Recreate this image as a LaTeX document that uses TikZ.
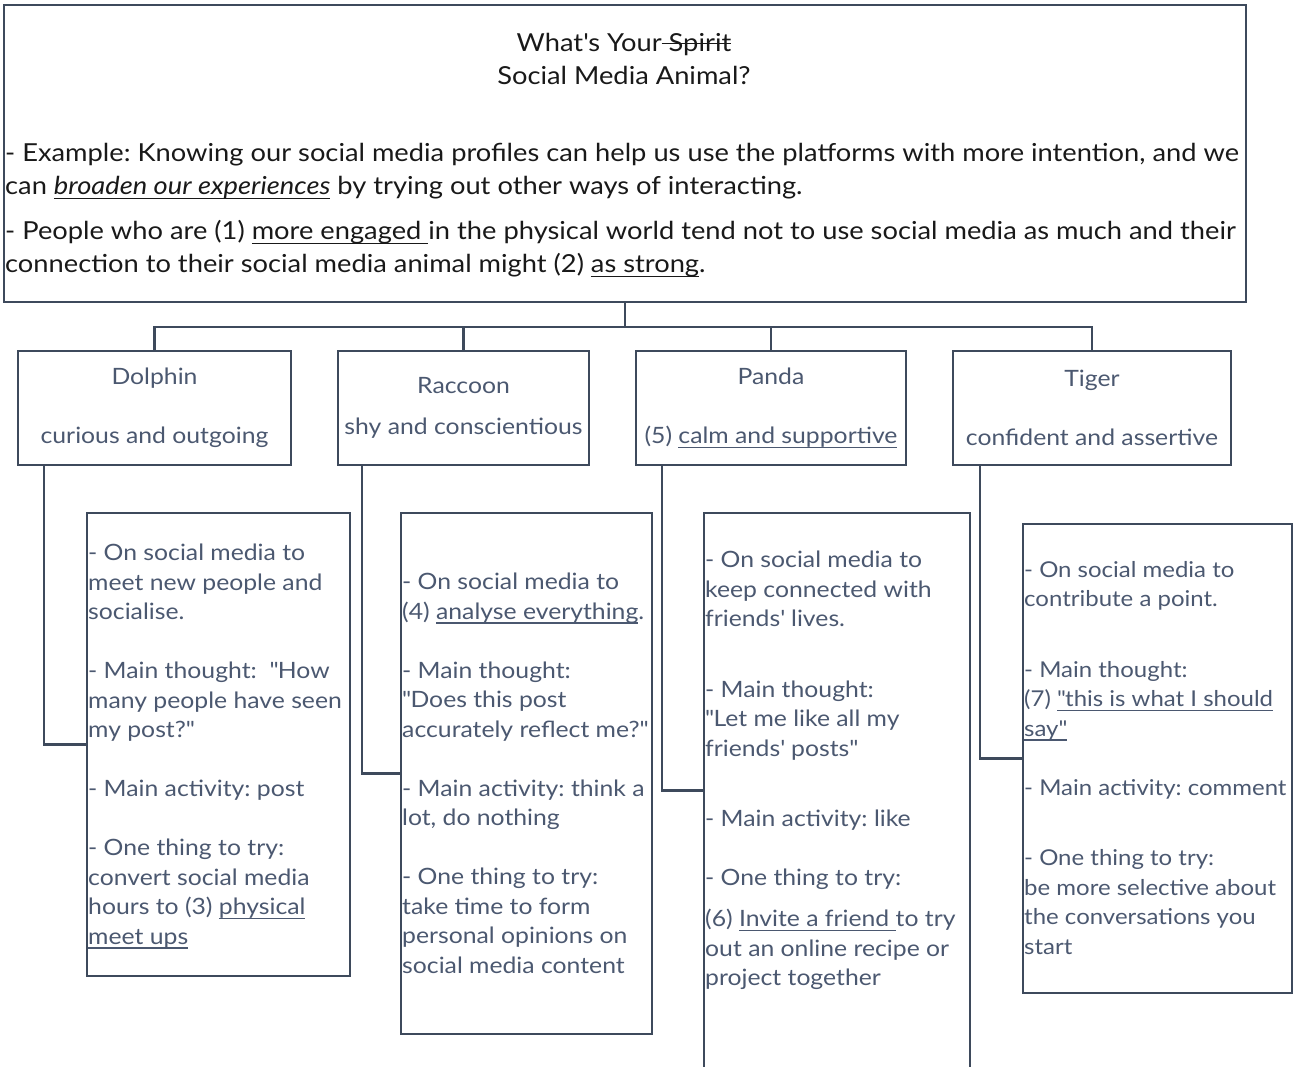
\documentclass[tikz,border=0pt]{standalone}
\usepackage{fontspec}
\setmainfont{Lato}[FakeStretch=1.1]
\usetikzlibrary{calc}
\definecolor{frame}{HTML}{3E4A5C}
\definecolor{slate}{HTML}{4B5870}
\frenchspacing
\newcommand{\ap}{\textquotesingle}
\newcommand{\qt}{\textquotedbl}
% underline and strike-out of one piece of text
\newcommand{\uln}[1]{\setbox0\hbox{#1}\rlap{\rule[-4.5pt]{\wd0}{1.3pt}}\box0\relax}
\newcommand{\strike}[1]{\setbox0\hbox{#1}\rlap{\rule[7pt]{\wd0}{1.3pt}}\box0\relax}

\begin{document}
\begin{tikzpicture}[x=1pt, y=-1pt,
    box/.style={draw=frame, line width=2.4pt, rectangle, inner sep=0pt, minimum height=114pt},
    head/.style={box, text=slate, align=center, font=\fontsize{22.5}{29.5}\selectfont},
    info/.style={draw=frame, line width=2.4pt, rectangle, inner sep=0pt},
    infotext/.style={anchor=north west, inner sep=0pt, text=slate, align=left,
        font=\fontsize{22.5}{29.5}\selectfont},
    maintext/.style={inner sep=0pt, text=black!90, font=\fontsize{24.8}{33}\selectfont}]

\useasboundingbox (0,0) rectangle (1295,1066);
\clip (0,0) rectangle (1295,1066);

% --- TOP BOX ---
\node[info, minimum width=1242pt, minimum height=297pt] (top) at (625,153.5) {};
\node[maintext, align=center] (title) at (624,58.5)
    {What\ap{}s Your\strike{ Spirit}\\Social Media Animal?};
\node[maintext, align=left, anchor=north west] (intro) at (5,143)
    {- Example: Knowing our social media profiles can help us use the platforms with more intention, and we\\
     can \uln{\textit{broaden our experiences}} by trying out other ways of interacting.\\[12pt]
     - People who are (1) \uln{more engaged\ }in the physical world tend not to use social media as much and their\\
     connection to their social media animal might (2) \uln{as strong}.};

% --- ANIMALS ---
\node[head, minimum width=273pt] (dolphin) at (154.5,408) {Dolphin\\[29.5pt]curious and outgoing};
\node[head, minimum width=251pt] (raccoon) at (463.5,408) {Raccoon\\[11.5pt]shy and conscientious};
\node[head, minimum width=270pt] (panda) at (771,408) {Panda\\[29.5pt](5) \uln{calm and supportive}};
\node[head, minimum width=278pt] (tiger) at (1092,408) {Tiger\\[29.5pt]confident and assertive};

\draw[frame, line width=2.4pt] (top.south) -- ++(0,24) coordinate (bar);
\foreach \n in {dolphin, raccoon, panda, tiger}
    \draw[frame, line width=2.4pt] (bar) -| (\n.north);

% --- DETAILS ---
\node[info, minimum width=263pt, minimum height=463pt] (dolphininfo) at (218.5,744.5) {};
\node[info, minimum width=251pt, minimum height=521pt] (raccooninfo) at (526.5,773.5) {};
\node[info, minimum width=266pt, minimum height=555pt] (pandainfo) at (837,790.5) {};
\node[info, minimum width=269pt, minimum height=469pt] (tigerinfo) at (1157.5,758.5) {};

\draw[frame, line width=2.4pt] ([xshift=27pt]dolphin.south west) |- (dolphininfo.west);
\draw[frame, line width=2.4pt] ([xshift=25pt]raccoon.south west) |- (raccooninfo.west);
\draw[frame, line width=2.4pt] ([xshift=27pt]panda.south west) |- (pandainfo.west);
\draw[frame, line width=2.4pt] ([xshift=28pt]tiger.south west) |- (tigerinfo.west);

\node[infotext] (dolphintext) at (88,544) {- On social media to\\
    meet new people and\\
    socialise.\\[29.5pt]
    - Main thought:\ \ \qt How\\
    many people have seen\\
    my post?\qt\\[29.5pt]
    - Main activity: post\\[29.5pt]
    - One thing to try:\\
    convert social media\\
    hours to (3) \uln{physical}\\
    \uln{meet ups}};

\node[infotext] (raccoontext) at (402,573) {- On social media to\\
    (4) \uln{analyse everything}.\\[29.5pt]
    - Main thought:\\
    \qt Does this post\\
    accurately reflect me?\qt\\[29.5pt]
    - Main activity: think a\\
    lot, do nothing\\[29.5pt]
    - One thing to try:\\
    take time to form\\
    personal opinions on\\
    social media content};

\node[infotext] (pandatext) at (705,551) {- On social media to\\
    keep connected with\\
    friends\ap{} lives.\\[41pt]
    - Main thought:\\
    \qt Let me like all my\\
    friends\ap{} posts\qt\\[41pt]
    - Main activity: like\\[29.5pt]
    - One thing to try:\\[11.5pt]
    (6) \uln{Invite a friend\ }to try\\
    out an online recipe or\\
    project together};

\node[infotext, font=\fontsize{21.8}{29.5}\selectfont] (tigertext) at (1024,561) {- On social media to\\
    contribute a point.\\[41pt]
    - Main thought:\\
    (7) \uln{\qt this is what I should}\\
    \uln{say\qt}\\[29.5pt]
    - Main activity: comment\\[41pt]
    - One thing to try:\\
    be more selective about\\
    the conversations you\\
    start};

\end{tikzpicture}
\end{document}
